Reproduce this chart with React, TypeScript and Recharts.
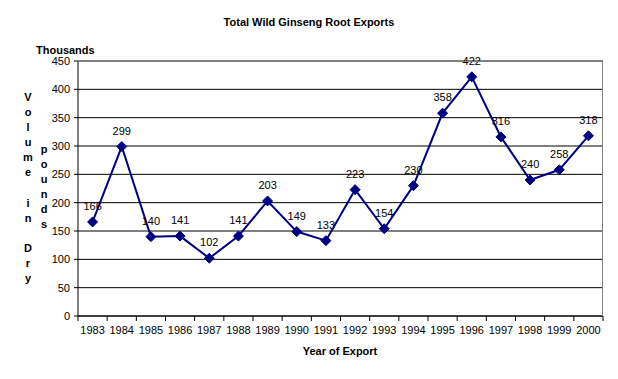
import React from 'react';
import { LineChart, Line, XAxis, YAxis, CartesianGrid, LabelList } from 'recharts';

const years = ['1983', '1984', '1985', '1986', '1987', '1988', '1989', '1990', '1991', '1992', '1993', '1994', '1995', '1996', '1997', '1998', '1999', '2000'];
const exportsThousands = [166, 299, 140, 141, 102, 141, 203, 149, 133, 223, 154, 230, 358, 422, 316, 240, 258, 318];
const yTicks = [0, 50, 100, 150, 200, 250, 300, 350, 400, 450];

const data = years.map((year, i) => ({ year, value: exportsThousands[i] }));

const W = 618;
const H = 379;
const margin = { top: 61, right: 15, left: 0, bottom: 0 };
const yAxisWidth = 78;
const xAxisHeight = 63;
const axisY = H - xAxisHeight;
const band = (W - margin.right - yAxisWidth) / years.length;
const font = 'Arial, "Liberation Sans", sans-serif';

const Diamond = (props: any) => {
  const { cx, cy } = props;
  if (cx == null || cy == null) return null;
  const r = 5;
  return <polygon points={`${cx},${cy - r} ${cx + r},${cy} ${cx},${cy + r} ${cx - r},${cy}`} fill="#000080" stroke="#000080" />;
};

// tick marks sit between categories, like a spreadsheet chart
const YearTick = (props: any) => {
  const { x, payload, index } = props;
  const last = index === years.length - 1;
  return (
    <g>
      <line x1={x - band / 2} y1={axisY} x2={x - band / 2} y2={axisY + 5} stroke="#000" />
      {last && <line x1={x + band / 2} y1={axisY} x2={x + band / 2} y2={axisY + 5} stroke="#000" />}
      <text x={x} y={axisY + 18} textAnchor="middle" fontSize={11} fontFamily={font} fill="#000">
        {payload.value}
      </text>
    </g>
  );
};

const stack = (s: string) => s.split('').join('\n');

export default function App() {
  const label: React.CSSProperties = { position: 'absolute', fontFamily: font, fontWeight: 'bold', fontSize: 11, color: '#000' };
  const column: React.CSSProperties = { ...label, whiteSpace: 'pre', lineHeight: '15.1px', textAlign: 'center', width: 14 };
  return (
    <div style={{ position: 'absolute', left: 0, top: 0, width: W, height: H, background: '#fff' }}>
      <LineChart width={W} height={H} data={data} margin={margin}>
        <CartesianGrid horizontal vertical={false} stroke="#000" strokeOpacity={1} />
        <XAxis
          dataKey="year"
          height={xAxisHeight}
          padding={{ left: band / 2, right: band / 2 }}
          axisLine={{ stroke: '#000' }}
          tickLine={false}
          tick={<YearTick />}
          interval={0}
        />
        <YAxis
          width={yAxisWidth}
          domain={[0, 450]}
          ticks={yTicks}
          axisLine={{ stroke: '#000' }}
          tickLine={{ stroke: '#000' }}
          tickSize={4}
          tickMargin={4}
          tick={{ fontSize: 11, fontFamily: font, fill: '#000' }}
        />
        <Line
          dataKey="value"
          stroke="#000080"
          strokeWidth={2}
          dot={<Diamond />}
          activeDot={false}
          isAnimationActive={false}
        >
          <LabelList dataKey="value" position="top" offset={12} fontSize={11} fontFamily={font} fill="#000" />
        </Line>
      </LineChart>
      {/* gray plot border on top and right */}
      <div style={{ position: 'absolute', left: yAxisWidth, top: margin.top, width: W - margin.right - yAxisWidth, height: H - margin.top - xAxisHeight, borderTop: '1px solid #808080', borderRight: '1px solid #808080', boxSizing: 'border-box', pointerEvents: 'none' }} />
      <div style={{ ...label, left: 0, width: W, top: 16, textAlign: 'center' }}>Total Wild Ginseng Root Exports</div>
      <div style={{ ...label, left: 36, top: 44 }}>Thousands</div>
      <div style={{ ...column, left: 21, top: 90 }}>{stack('Volume in Dry')}</div>
      <div style={{ ...column, left: 37, top: 142 }}>{stack('pounds')}</div>
      <div style={{ ...label, left: 0, width: 680, top: 345, textAlign: 'center' }}>Year of Export</div>
    </div>
  );
}
